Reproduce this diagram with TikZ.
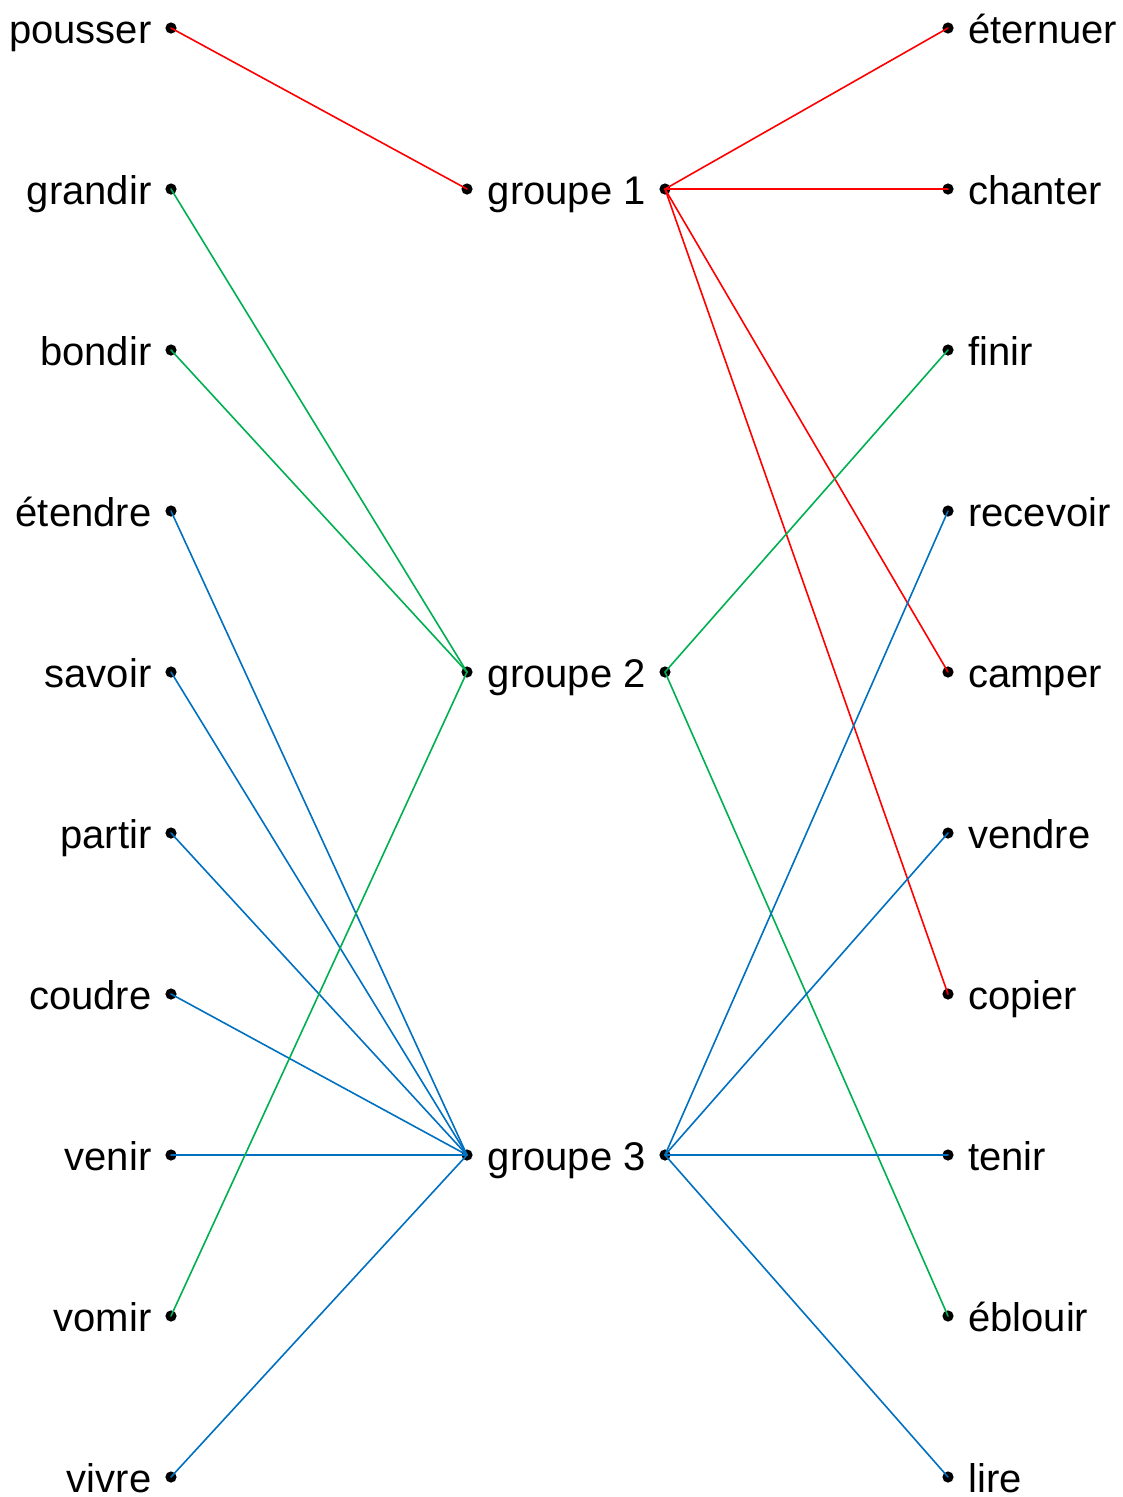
\documentclass[tikz,border=0pt]{standalone}
\usepackage{fontspec}
\setmainfont{Liberation Sans}
\usepackage{tikz}
\definecolor{ffqqqq}{rgb}{1.,0.,0.}
\definecolor{qqbqvq}{rgb}{0.,0.690196078431,0.313725490196}
\definecolor{qqxqcq}{rgb}{0.,0.439215686275,0.752941176471}
\begin{document}
\begin{tikzpicture}[line cap=round,line join=round,x=0.75pt,y=-0.75pt,
  every node/.style={font=\fontsize{30}{36}\selectfont,inner sep=0pt},
  gauche/.style={anchor=base east,xshift=-14.5pt,yshift=-11.25pt},
  droite/.style={anchor=base west,xshift=15pt,yshift=-11.25pt},
  milieu/.style={anchor=base west,xshift=15.5pt,yshift=-11.25pt}]
\useasboundingbox (0,0) rectangle (1122,1497);
% verbes de gauche
\coordinate (pousser) at (171,28);
\coordinate (grandir) at (171,189);
\coordinate (bondir) at (171,350);
\coordinate (etendre) at (171,511);
\coordinate (savoir) at (171,672);
\coordinate (partir) at (171,833);
\coordinate (coudre) at (171,994);
\coordinate (venir) at (171,1155);
\coordinate (vomir) at (171,1316);
\coordinate (vivre) at (171,1477);
% groupes
\coordinate (g1a) at (467,189);
\coordinate (g1b) at (665,189);
\coordinate (g2a) at (467,672);
\coordinate (g2b) at (665,672);
\coordinate (g3a) at (467,1155);
\coordinate (g3b) at (665,1155);
% verbes de droite
\coordinate (eternuer) at (948,28);
\coordinate (chanter) at (948,189);
\coordinate (finir) at (948,350);
\coordinate (recevoir) at (948,511);
\coordinate (camper) at (948,672);
\coordinate (vendre) at (948,833);
\coordinate (copier) at (948,994);
\coordinate (tenir) at (948,1155);
\coordinate (eblouir) at (948,1316);
\coordinate (lire) at (948,1477);
\fill (pousser) circle (4.2pt);
\fill (grandir) circle (4.2pt);
\fill (bondir) circle (4.2pt);
\fill (etendre) circle (4.2pt);
\fill (savoir) circle (4.2pt);
\fill (partir) circle (4.2pt);
\fill (coudre) circle (4.2pt);
\fill (venir) circle (4.2pt);
\fill (vomir) circle (4.2pt);
\fill (vivre) circle (4.2pt);
\fill (g1a) circle (4.2pt);
\fill (g1b) circle (4.2pt);
\fill (g2a) circle (4.2pt);
\fill (g2b) circle (4.2pt);
\fill (g3a) circle (4.2pt);
\fill (g3b) circle (4.2pt);
\fill (eternuer) circle (4.2pt);
\fill (chanter) circle (4.2pt);
\fill (finir) circle (4.2pt);
\fill (recevoir) circle (4.2pt);
\fill (camper) circle (4.2pt);
\fill (vendre) circle (4.2pt);
\fill (copier) circle (4.2pt);
\fill (tenir) circle (4.2pt);
\fill (eblouir) circle (4.2pt);
\fill (lire) circle (4.2pt);
% liaisons
\draw [line width=1.2pt,color=ffqqqq] (pousser) -- (g1a);
\draw [line width=1.2pt,color=qqbqvq] (grandir) -- (g2a);
\draw [line width=1.2pt,color=qqbqvq] (bondir) -- (g2a);
\draw [line width=1.2pt,color=qqxqcq] (etendre) -- (g3a);
\draw [line width=1.2pt,color=qqxqcq] (savoir) -- (g3a);
\draw [line width=1.2pt,color=qqxqcq] (partir) -- (g3a);
\draw [line width=1.2pt,color=qqxqcq] (coudre) -- (g3a);
\draw [line width=1.2pt,color=qqxqcq] (venir) -- (g3a);
\draw [line width=1.2pt,color=qqbqvq] (vomir) -- (g2a);
\draw [line width=1.2pt,color=qqxqcq] (vivre) -- (g3a);
\draw [line width=1.2pt,color=ffqqqq] (g1b) -- (eternuer);
\draw [line width=1.2pt,color=ffqqqq] (g1b) -- (chanter);
\draw [line width=1.2pt,color=ffqqqq] (g1b) -- (camper);
\draw [line width=1.2pt,color=ffqqqq] (g1b) -- (copier);
\draw [line width=1.2pt,color=qqbqvq] (g2b) -- (finir);
\draw [line width=1.2pt,color=qqbqvq] (g2b) -- (eblouir);
\draw [line width=1.2pt,color=qqxqcq] (g3b) -- (recevoir);
\draw [line width=1.2pt,color=qqxqcq] (g3b) -- (vendre);
\draw [line width=1.2pt,color=qqxqcq] (g3b) -- (tenir);
\draw [line width=1.2pt,color=qqxqcq] (g3b) -- (lire);
% etiquettes
\draw (pousser) node[gauche] (l-pousser) {pousser};
\draw (grandir) node[gauche] (l-grandir) {grandir};
\draw (bondir) node[gauche] (l-bondir) {bondir};
\draw (etendre) node[gauche] (l-etendre) {étendre};
\draw (savoir) node[gauche] (l-savoir) {savoir};
\draw (partir) node[gauche] (l-partir) {partir};
\draw (coudre) node[gauche] (l-coudre) {coudre};
\draw (venir) node[gauche] (l-venir) {venir};
\draw (vomir) node[gauche] (l-vomir) {vomir};
\draw (vivre) node[gauche] (l-vivre) {vivre};
\draw (g1a) node[milieu] (l-g1) {groupe 1};
\draw (g2a) node[milieu] (l-g2) {groupe 2};
\draw (g3a) node[milieu] (l-g3) {groupe 3};
\draw (eternuer) node[droite] (l-eternuer) {éternuer};
\draw (chanter) node[droite] (l-chanter) {chanter};
\draw (finir) node[droite] (l-finir) {finir};
\draw (recevoir) node[droite] (l-recevoir) {recevoir};
\draw (camper) node[droite] (l-camper) {camper};
\draw (vendre) node[droite] (l-vendre) {vendre};
\draw (copier) node[droite] (l-copier) {copier};
\draw (tenir) node[droite] (l-tenir) {tenir};
\draw (eblouir) node[droite] (l-eblouir) {éblouir};
\draw (lire) node[droite] (l-lire) {lire};
\end{tikzpicture}
\end{document}
